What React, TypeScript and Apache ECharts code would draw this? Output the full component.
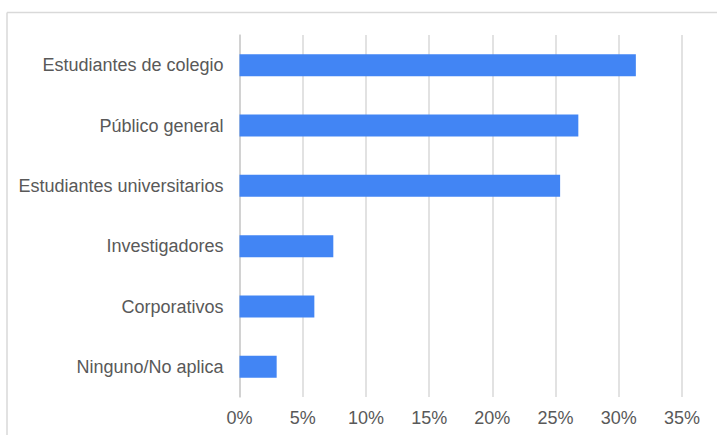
import React, { useEffect, useRef } from "react";
import * as echarts from "echarts";

const categories = [
  "Estudiantes de colegio",
  "Público general",
  "Estudiantes universitarios",
  "Investigadores",
  "Corporativos",
  "Ninguno/No aplica",
];
const values = [31.35, 26.8, 25.36, 7.42, 5.92, 2.94];
const xTicks = [0, 5, 10, 15, 20, 25, 30, 35];

export default function App() {
  const ref = useRef<HTMLDivElement>(null);
  useEffect(() => {
    if (!ref.current) return;
    const chart = echarts.init(ref.current, null, { renderer: "svg" });
    chart.setOption({
      animation: false,
      backgroundColor: "#ffffff",
      grid: { left: 239.5, right: 35, top: 35, bottom: 38, containLabel: false },
      graphic: [
        {
          type: "line",
          shape: { x1: 7, y1: 12.5, x2: 717, y2: 12.5 },
          style: { stroke: "#d9d9d9", lineWidth: 1.5 },
          silent: true,
        },
        {
          type: "line",
          shape: { x1: 7, y1: 12.5, x2: 7, y2: 435 },
          style: { stroke: "#d9d9d9", lineWidth: 1.5 },
          silent: true,
        },
      ],
      xAxis: {
        type: "value",
        min: xTicks[0],
        max: xTicks[xTicks.length - 1],
        interval: 5,
        axisLine: { show: false },
        axisTick: { show: false },
        splitLine: { show: true, lineStyle: { color: "#d9d9d9", width: 1.5 } },
        axisLabel: {
          formatter: "{value}%",
          color: "#595959",
          fontSize: 18,
          fontFamily: "Liberation Sans, Arial, sans-serif",
          margin: 12,
        },
      },
      yAxis: {
        type: "category",
        inverse: true,
        data: categories,
        axisLine: { show: true, lineStyle: { color: "#cccccc", width: 1.5 } },
        axisTick: { show: false },
        splitLine: { show: false },
        axisLabel: {
          color: "#595959",
          fontSize: 18,
          fontFamily: "Liberation Sans, Arial, sans-serif",
          margin: 16,
        },
      },
      series: [
        {
          type: "bar",
          data: values,
          barWidth: 22,
          itemStyle: { color: "#4285f4" },
        },
      ],
    });
    return () => chart.dispose();
  }, []);
  return (
    <div
      ref={ref}
      style={{ position: "fixed", left: 0, top: 0, width: 717, height: 435 }}
    />
  );
}
